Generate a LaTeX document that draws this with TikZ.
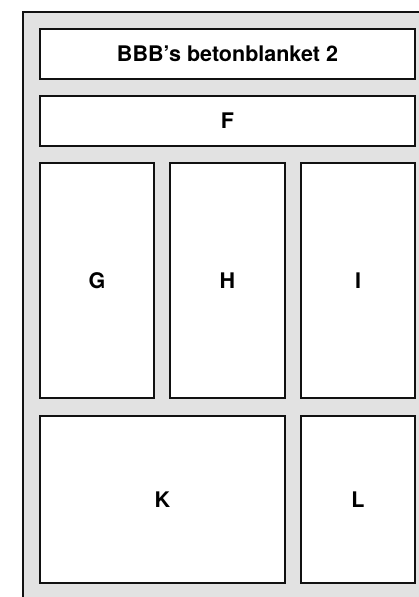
\documentclass[tikz,border=0pt]{standalone}
\usepackage{fontspec}
\setsansfont{TeX Gyre Heros}
\usetikzlibrary{positioning}
\definecolor{stipplegray}{HTML}{E2E2E2}
\definecolor{ink}{HTML}{111111}
\tikzset{
  panel/.style={
    draw=ink,
    fill=white,
    line width=1.6pt,
    inner sep=0pt,
    font=\sffamily\bfseries\fontsize{21.5}{25}\selectfont
  },
  wideband/.style={
    panel,
    minimum width=375pt,
    minimum height=50pt
  },
  tallpanel/.style={
    panel,
    minimum width=114pt,
    minimum height=235pt
  },
  lowpanel/.style={
    panel,
    minimum height=167pt
  },
  frameline/.style={
    draw=ink,
    line width=2.4pt
  }
}

\begin{document}
\begin{tikzpicture}[x=1pt,y=-1pt]
  \useasboundingbox (0,0) rectangle (419,597);

  % stippled sheet behind the panels
  \fill[stipplegray] (23,12) rectangle (425,605);
  \draw[frameline] (23,605) -- (23,12) -- (425,12);

  \node[wideband] (title) at (227.5,54) {BBB’s betonblanket 2};
  \node[wideband] (f) at (227.5,121) {F};

  \node[tallpanel] (g) at (97,280.5) {G};
  \node[tallpanel, minimum width=115pt] (h) at (227.5,280.5) {H};
  \node[tallpanel] (i) at (358,280.5) {I};

  \node[lowpanel, minimum width=245pt] (k) at (162.5,499.5) {K};
  \node[lowpanel, minimum width=114pt] (l) at (358,499.5) {L};
\end{tikzpicture}
\end{document}
